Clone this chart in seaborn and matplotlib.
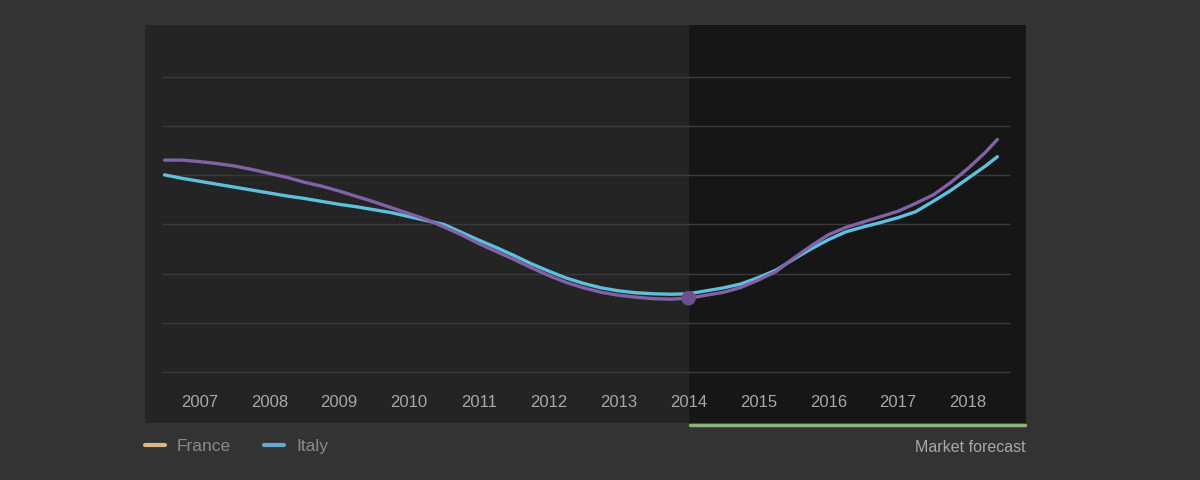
import numpy as np
import pandas as pd
import seaborn as sns
import matplotlib.pyplot as plt
from matplotlib.lines import Line2D

# ─── DATA (quarter-year steps) ───────────────────────────────────────────────
years = [2006.5, 2006.75, 2007, 2007.25, 2007.5, 2007.75, 2008, 2008.25,
         2008.5, 2008.75, 2009, 2009.25, 2009.5, 2009.75, 2010, 2010.25,
         2010.5, 2010.75, 2011, 2011.25, 2011.5, 2011.75, 2012, 2012.25,
         2012.5, 2012.75, 2013, 2013.25, 2013.5, 2013.75, 2014, 2014.25,
         2014.5, 2014.75, 2015, 2015.25, 2015.5, 2015.75, 2016, 2016.25,
         2016.5, 2016.75, 2017, 2017.25, 2017.5, 2017.75, 2018, 2018.25,
         2018.42]
france = [4.31, 4.31, 4.28, 4.24, 4.19, 4.12, 4.04, 3.96,
          3.86, 3.78, 3.68, 3.57, 3.46, 3.34, 3.22, 3.10,
          2.95, 2.79, 2.61, 2.45, 2.29, 2.12, 1.96, 1.82,
          1.71, 1.62, 1.56, 1.52, 1.49, 1.48, 1.50, 1.56,
          1.62, 1.72, 1.87, 2.04, 2.31, 2.56, 2.79, 2.94,
          3.05, 3.16, 3.27, 3.43, 3.60, 3.85, 4.14, 4.47,
          4.73]
italy = [4.01, 3.94, 3.88, 3.82, 3.76, 3.70, 3.64, 3.58,
         3.53, 3.47, 3.41, 3.36, 3.30, 3.24, 3.16, 3.08,
         3.00, 2.84, 2.68, 2.53, 2.37, 2.20, 2.05, 1.91,
         1.80, 1.71, 1.65, 1.61, 1.59, 1.58, 1.59, 1.65,
         1.71, 1.79, 1.92, 2.07, 2.29, 2.50, 2.69, 2.85,
         2.95, 3.04, 3.14, 3.26, 3.47, 3.69, 3.94, 4.19,
         4.38]
tick_years = list(range(2007, 2019))
grid_levels = [0, 1, 2, 3, 4, 5, 6]
forecast_start = 2014
highlight_year = 2014
highlight_value = 1.50
legend_names = ["France", "Italy"]
legend_colors = ["#d8b88a", "#6aa6c8"]

# ─── STYLE ───────────────────────────────────────────────────────────────────
FIG_BG = "#333333"
PANEL_BG = "#242424"
FORECAST_BG = "#161616"
GRID = "#3a3a3a"
TEXT = "#a8a8a8"
PURPLE = "#8262a6"
CYAN = "#5ec0dc"

sns.set_theme(style="dark")
plt.rcParams["font.family"] = ["Liberation Sans", "DejaVu Sans"]

df = pd.DataFrame({
    "year": years * 2,
    "value": france + italy,
    "country": ["France"] * len(years) + ["Italy"] * len(years),
})

fig = plt.figure(figsize=(12, 4.8), dpi=100, facecolor=FIG_BG)
# panel spans x 145..1026, y 25..423 px
ax = fig.add_axes([145 / 1200, 1 - 423 / 480, 881 / 1200, 398 / 480])
ax.set_facecolor(PANEL_BG)

x_lo, x_hi = 2006.22, 2018.83
ax.set_xlim(x_lo, x_hi)
ax.set_ylim(-1.04, 7.06)

ax.axvspan(forecast_start, x_hi, color=FORECAST_BG, lw=0, zorder=0)
ax.hlines(grid_levels, 2006.47, 2018.60, color=GRID, lw=1, zorder=1)

sns.lineplot(data=df, x="year", y="value", hue="country",
             palette={"France": PURPLE, "Italy": CYAN},
             hue_order=["Italy", "France"], lw=2.4, legend=False,
             ax=ax, zorder=3)
ax.lines[-1].set_solid_capstyle("round")
ax.scatter([highlight_year], [highlight_value], s=110, color="#6d4f8c",
           zorder=4, edgecolor="none")

for y in tick_years:
    ax.text(y, -0.62, str(y), ha="center", va="center", color=TEXT, fontsize=12)

ax.set_xticks([])
ax.set_yticks([])
ax.set_xlabel("")
ax.set_ylabel("")
for s in ax.spines.values():
    s.set_visible(False)

# green forecast bar under the panel
fig.add_artist(Line2D([690 / 1200, 1025 / 1200], [1 - 425 / 480] * 2,
                      color="#8cb47a", lw=2.5, solid_capstyle="round"))
fig.text(1026 / 1200, 1 - 448 / 480, "Market forecast", ha="right",
         va="center", color=TEXT, fontsize=11.5)

handles = [Line2D([], [], color=c, lw=3) for c in legend_colors]
fig.legend(handles, legend_names, loc="center left",
           bbox_to_anchor=(145 / 1200, 1 - 446 / 480), ncol=2, frameon=False,
           borderpad=0, borderaxespad=0, handlelength=1.15,
           handletextpad=0.7, columnspacing=1.9, fontsize=12.5,
           labelcolor="#8a8a8a")

fig.savefig("out.png", dpi=100, facecolor=FIG_BG)
